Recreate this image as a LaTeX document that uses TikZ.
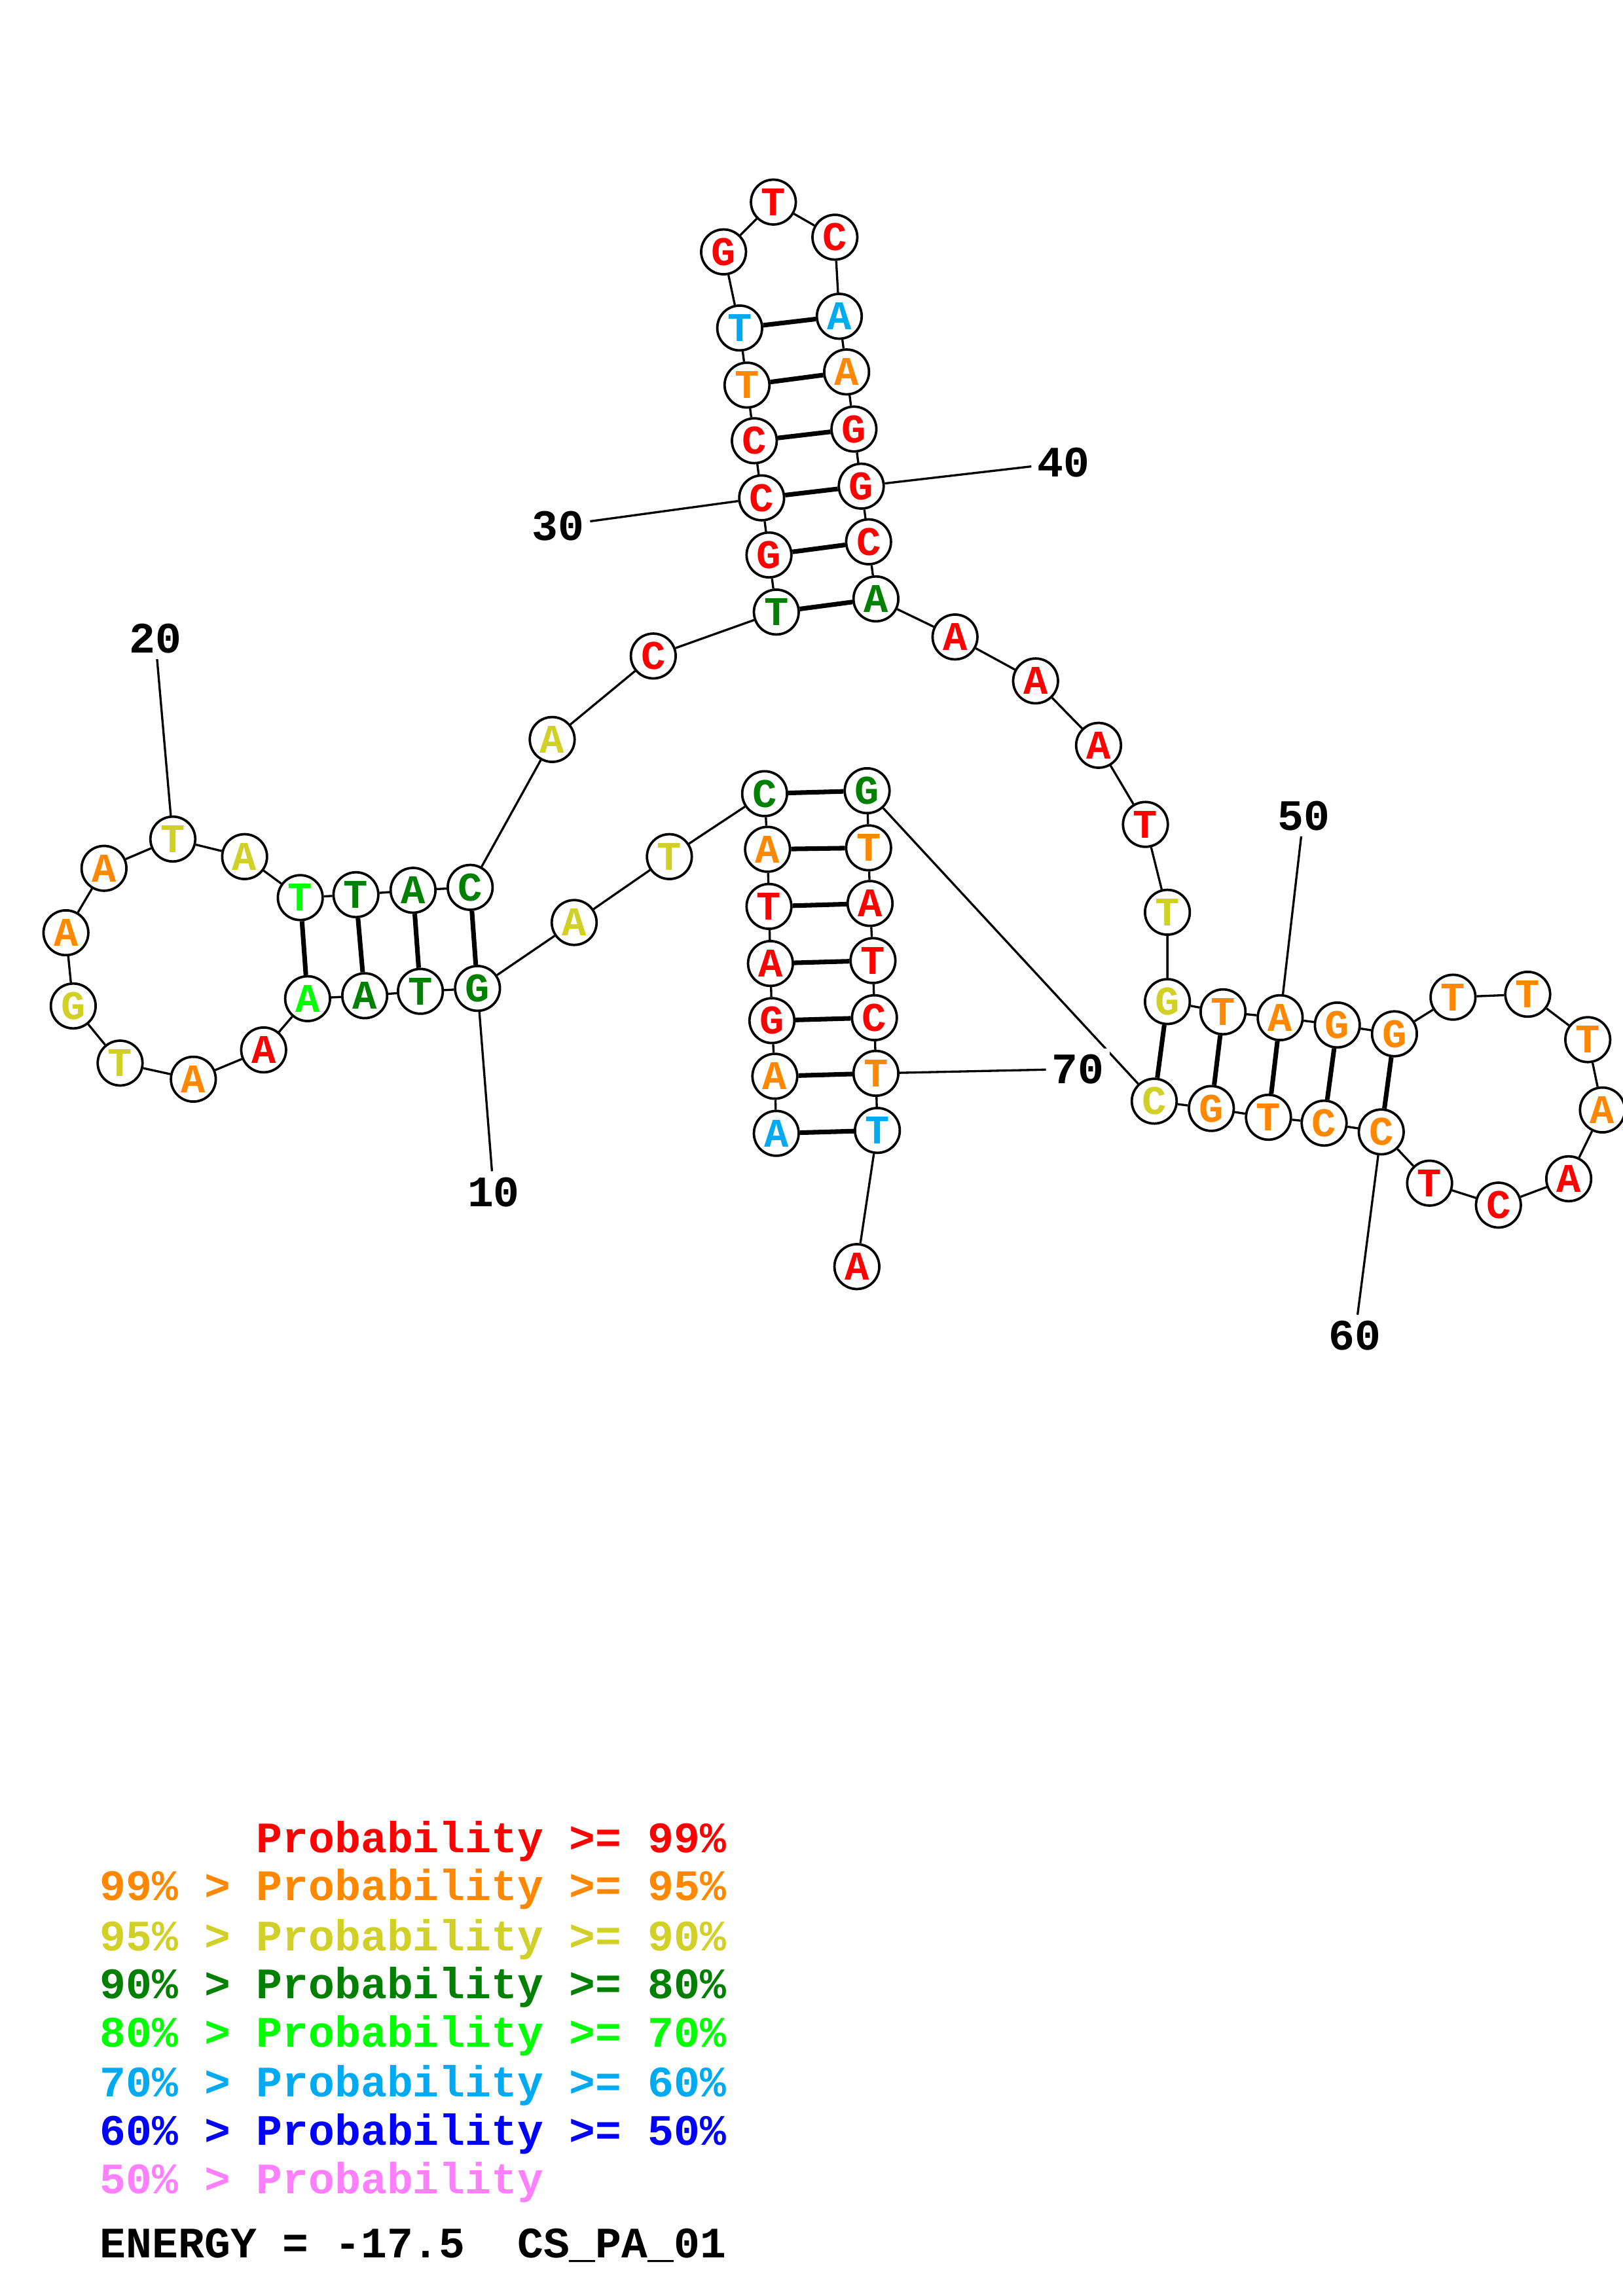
\documentclass[tikz,border=0pt]{standalone}
\usepackage{fontspec}
\newfontfamily\cour{Liberation Mono}
\definecolor{c99}{RGB}{255,0,0}
\definecolor{c95}{RGB}{255,136,0}
\definecolor{c90}{RGB}{208,208,40}
\definecolor{c80}{RGB}{0,128,0}
\definecolor{c70}{RGB}{0,255,0}
\definecolor{c60}{RGB}{0,170,240}
\definecolor{c50}{RGB}{0,0,255}
\definecolor{c00}{RGB}{255,128,255}

\begin{document}
\begin{tikzpicture}[x=0.018953cm, y=-0.018953cm,
nt/.style={circle, draw, fill=white, line width=0.9pt, minimum size=0.58cm, inner sep=0pt, font=\cour\bfseries\fontsize{15}{15}\selectfont},
pair/.style={line width=1.7pt},
num/.style={fill=white, inner sep=2pt, font=\cour\bfseries\fontsize{16}{16}\selectfont}]
\tikzstyle{leg}=[anchor=base west, inner sep=0pt, font=\cour\bfseries\fontsize{16}{16}\selectfont]
\useasboundingbox (0,0) rectangle (1108,1568);
%outer stem
\node[nt, text=c60] (n1) at (530,774) {A};
\node[nt, text=c95] (n2) at (529,735) {A};
\node[nt, text=c99] (n3) at (527,697) {G};
\node[nt, text=c99] (n4) at (526,658) {A};
\node[nt, text=c99] (n5) at (525,619) {T};
\node[nt, text=c95] (n6) at (524,580) {A};
\node[nt, text=c80] (n7) at (522,542) {C};
\node[nt, text=c90] (n8) at (457,585) {T};
\node[nt, text=c90] (n9) at (392,630) {A};
%left hairpin
\node[nt, text=c80] (n10) at (326,675) {G};
\node[nt, text=c80] (n11) at (287,677) {T};
\node[nt, text=c80] (n12) at (249,680) {A};
\node[nt, text=c70] (n13) at (210,682) {A};
\node[nt, text=c99] (n14) at (180,717) {A};
\node[nt, text=c95] (n15) at (132,737) {A};
\node[nt, text=c90] (n16) at (82,726) {T};
\node[nt, text=c90] (n17) at (50,687) {G};
\node[nt, text=c95] (n18) at (45,637) {A};
\node[nt, text=c95] (n19) at (71,593) {A};
\node[nt, text=c90] (n20) at (118,573) {T};
\node[nt, text=c90] (n21) at (167,585) {A};
\node[nt, text=c70] (n22) at (205,613) {T};
\node[nt, text=c80] (n23) at (243,611) {T};
\node[nt, text=c80] (n24) at (282,608) {A};
\node[nt, text=c80] (n25) at (321,606) {C};
\node[nt, text=c90] (n26) at (377,505) {A};
\node[nt, text=c99] (n27) at (446,448) {C};
%top hairpin
\node[nt, text=c80] (n28) at (530,418) {T};
\node[nt, text=c99] (n29) at (525,379) {G};
\node[nt, text=c99] (n30) at (520,340) {C};
\node[nt, text=c99] (n31) at (515,301) {C};
\node[nt, text=c95] (n32) at (510,263) {T};
\node[nt, text=c60] (n33) at (505,224) {T};
\node[nt, text=c99] (n34) at (494,172) {G};
\node[nt, text=c99] (n35) at (528,138) {T};
\node[nt, text=c99] (n36) at (570,162) {C};
\node[nt, text=c60] (n37) at (573,216) {A};
\node[nt, text=c95] (n38) at (578,254) {A};
\node[nt, text=c99] (n39) at (583,293) {G};
\node[nt, text=c99] (n40) at (588,332) {G};
\node[nt, text=c99] (n41) at (593,370) {C};
\node[nt, text=c80] (n42) at (598,409) {A};
\node[nt, text=c99] (n43) at (652,435) {A};
\node[nt, text=c99] (n44) at (707,465) {A};
\node[nt, text=c99] (n45) at (750,509) {A};
\node[nt, text=c99] (n46) at (782,563) {T};
\node[nt, text=c90] (n47) at (797,623) {T};
%right hairpin
\node[nt, text=c90] (n48) at (797,684) {G};
\node[nt, text=c95] (n49) at (835,691) {T};
\node[nt, text=c95] (n50) at (874,695) {A};
\node[nt, text=c95] (n51) at (913,700) {G};
\node[nt, text=c95] (n52) at (952,706) {G};
\node[nt, text=c95] (n53) at (992,681) {T};
\node[nt, text=c95] (n54) at (1043,679) {T};
\node[nt, text=c95] (n55) at (1084,710) {T};
\node[nt, text=c95] (n56) at (1094,758) {A};
\node[nt, text=c99] (n57) at (1071,805) {A};
\node[nt, text=c99] (n58) at (1023,823) {C};
\node[nt, text=c99] (n59) at (976,808) {T};
\node[nt, text=c95] (n60) at (943,773) {C};
\node[nt, text=c95] (n61) at (904,767) {C};
\node[nt, text=c95] (n62) at (866,763) {T};
\node[nt, text=c95] (n63) at (827,757) {G};
\node[nt, text=c90] (n64) at (788,752) {C};
%back down the outer stem
\node[nt, text=c80] (n65) at (592,540) {G};
\node[nt, text=c95] (n66) at (593,579) {T};
\node[nt, text=c99] (n67) at (594,617) {A};
\node[nt, text=c99] (n68) at (596,656) {T};
\node[nt, text=c99] (n69) at (597,695) {C};
\node[nt, text=c95] (n70) at (598,733) {T};
\node[nt, text=c60] (n71) at (599,772) {T};
\node[nt, text=c99] (n72) at (585,865) {A};

%backbone
\draw[line width=0.8pt] (n1) -- (n2) -- (n3) -- (n4) -- (n5) -- (n6) -- (n7) -- (n8) -- (n9)
  -- (n10) -- (n11) -- (n12) -- (n13) -- (n14) -- (n15) -- (n16) -- (n17) -- (n18) -- (n19)
  -- (n20) -- (n21) -- (n22) -- (n23) -- (n24) -- (n25) -- (n26) -- (n27) -- (n28) -- (n29)
  -- (n30) -- (n31) -- (n32) -- (n33) -- (n34) -- (n35) -- (n36) -- (n37) -- (n38) -- (n39)
  -- (n40) -- (n41) -- (n42) -- (n43) -- (n44) -- (n45) -- (n46) -- (n47) -- (n48) -- (n49)
  -- (n50) -- (n51) -- (n52) -- (n53) -- (n54) -- (n55) -- (n56) -- (n57) -- (n58) -- (n59)
  -- (n60) -- (n61) -- (n62) -- (n63) -- (n64) -- (n65) -- (n66) -- (n67) -- (n68) -- (n69)
  -- (n70) -- (n71) -- (n72);
%pairs
\draw[pair] (n1) -- (n71) (n2) -- (n70) (n3) -- (n69) (n4) -- (n68) (n5) -- (n67) (n6) -- (n66) (n7) -- (n65);
\draw[pair] (n10) -- (n25) (n11) -- (n24) (n12) -- (n23) (n13) -- (n22);
\draw[pair] (n28) -- (n42) (n29) -- (n41) (n30) -- (n40) (n31) -- (n39) (n32) -- (n38) (n33) -- (n37);
\draw[pair] (n48) -- (n64) (n49) -- (n63) (n50) -- (n62) (n51) -- (n61) (n52) -- (n60);

%positions
\node[num] (l10) at (337,814) {10};
\node[num] (l20) at (106,436) {20};
\node[num] (l30) at (381,359) {30};
\node[num] (l40) at (726,316) {40};
\node[num] (l50) at (890,557) {50};
\node[num] (l60) at (925,912) {60};
\node[num] (l70) at (736,730) {70};
\draw[line width=0.8pt] (n10) -- (l10) (n20) -- (l20) (n30) -- (l30) (n40) -- (l40)
  (n50) -- (l50) (n60) -- (l60) (n70) -- (l70);

%legend
\node[leg, text=c99] (k99) at (68,1265) {\phantom{99\% > }Probability >= 99\%};
\node[leg, text=c95] (k95) at (68,1298) {99\% > Probability >= 95\%};
\node[leg, text=c90] (k90) at (68,1332) {95\% > Probability >= 90\%};
\node[leg, text=c80] (k80) at (68,1365) {90\% > Probability >= 80\%};
\node[leg, text=c70] (k70) at (68,1398) {80\% > Probability >= 70\%};
\node[leg, text=c60] (k60) at (68,1432) {70\% > Probability >= 60\%};
\node[leg, text=c50] (k50) at (68,1465) {60\% > Probability >= 50\%};
\node[leg, text=c00] (k00) at (68,1498) {50\% > Probability};
\node[leg] (energy) at (68,1542) {ENERGY = -17.5\ \ CS\_PA\_01};
\end{tikzpicture}
\end{document}
